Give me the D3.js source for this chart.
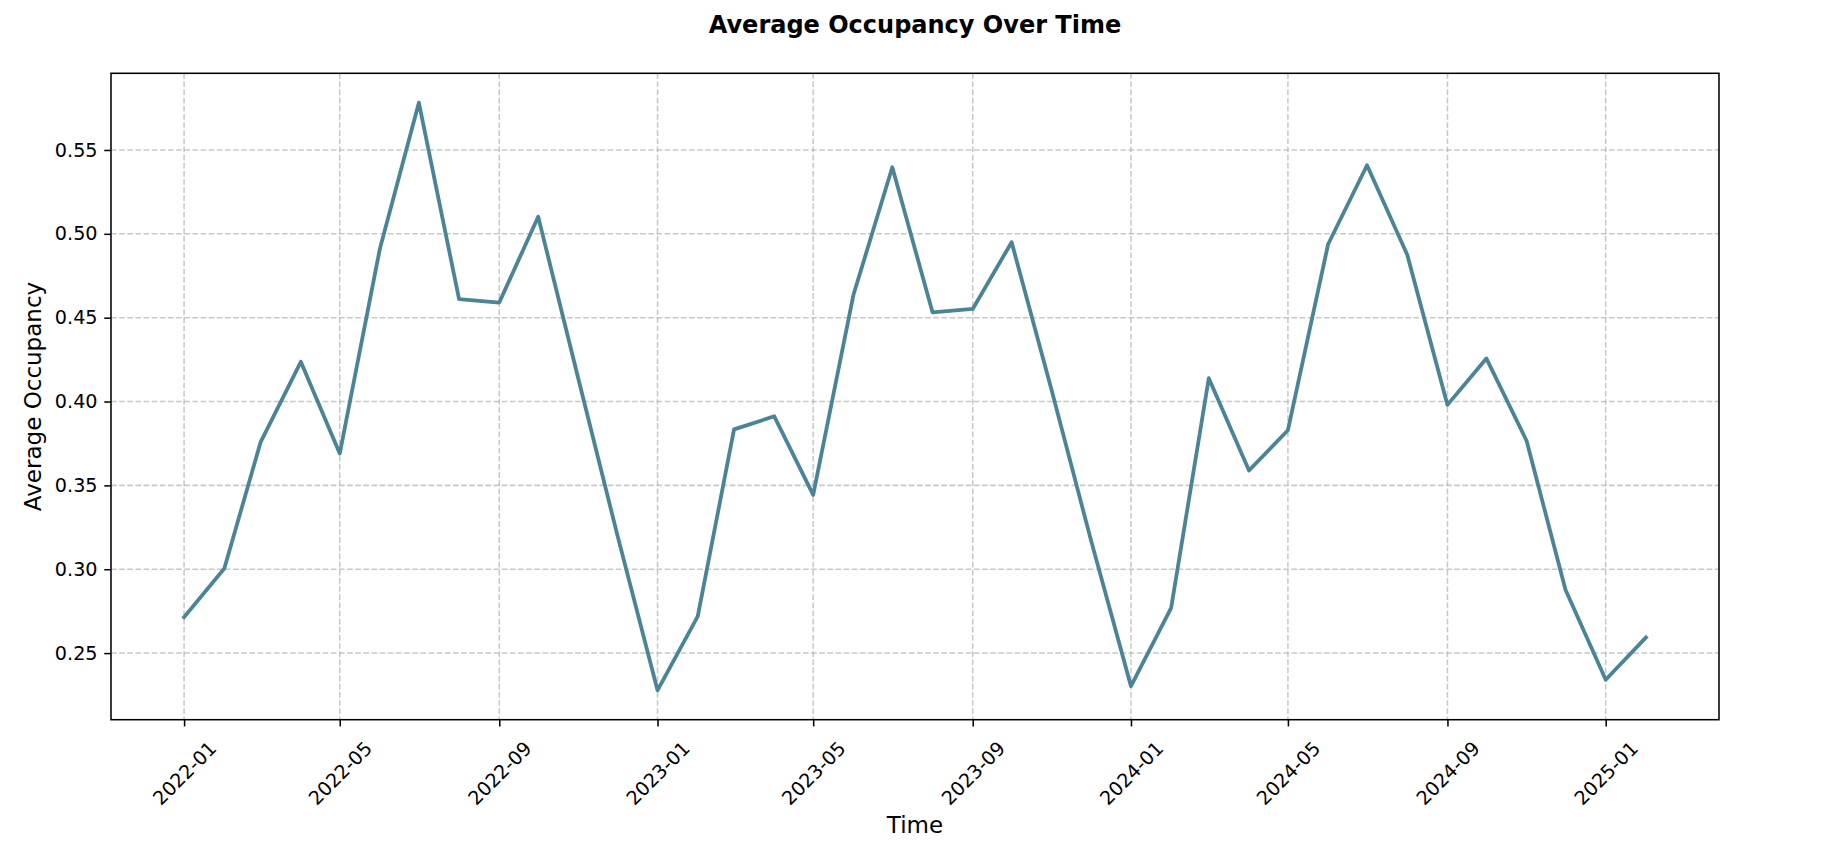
<!DOCTYPE html>
<html>
<head>
<meta charset="utf-8">
<script src="https://cdn.jsdelivr.net/npm/d3@7"></script>
<style>
  html, body { margin: 0; padding: 0; background: #ffffff; }
  svg { display: block; font-family: "DejaVu Sans", sans-serif; }
</style>
</head>
<body>
<svg id="chart" width="1828" height="860"></svg>
<script>
// ---- data ----
const months = [
  "2022-01","2022-02","2022-03","2022-04","2022-05","2022-06","2022-07","2022-08","2022-09","2022-10","2022-11","2022-12",
  "2023-01","2023-02","2023-03","2023-04","2023-05","2023-06","2023-07","2023-08","2023-09","2023-10","2023-11","2023-12",
  "2024-01","2024-02","2024-03","2024-04","2024-05","2024-06","2024-07","2024-08","2024-09","2024-10","2024-11","2024-12",
  "2025-01","2025-02"
];
const occupancy = [
  0.2714, 0.3004, 0.3758, 0.4237, 0.3690, 0.4913, 0.5782, 0.4610, 0.4590, 0.5102, 0.4134, 0.3205,
  0.2278, 0.2719, 0.3834, 0.3912, 0.3443, 0.4635, 0.5397, 0.4532, 0.4552, 0.4950, 0.4063, 0.3178,
  0.2303, 0.2770, 0.4139, 0.3589, 0.3829, 0.4938, 0.5409, 0.4875, 0.3980, 0.4257, 0.3766, 0.2878,
  0.2341, 0.2593
];
const xTickLabels = ["2022-01","2022-05","2022-09","2023-01","2023-05","2023-09","2024-01","2024-05","2024-09","2025-01"];
const yTickValues = [0.25, 0.30, 0.35, 0.40, 0.45, 0.50, 0.55];
const titleText = "Average Occupancy Over Time";
const xLabelText = "Time";
const yLabelText = "Average Occupancy";

// ---- layout ----
const W = 1828, H = 860;
const plot = { left: 111, right: 1719, top: 73.3, bottom: 719.7 };
const px = 1.92;                 // pixels per point
const tickLen = 3.5 * px, tickPad = 3.5 * px;

const parse = d3.utcParse("%Y-%m");
const data = months.map((m, i) => ({ date: parse(m), value: occupancy[i] }));

// x scale with 5% margins (matplotlib autoscale)
const x0 = data[0].date.getTime(), x1 = data[data.length - 1].date.getTime();
const xm = (x1 - x0) * 0.05;
const x = d3.scaleUtc()
  .domain([new Date(x0 - xm), new Date(x1 + xm)])
  .range([plot.left, plot.right]);

const yMin = d3.min(occupancy), yMax = d3.max(occupancy);
const ym = (yMax - yMin) * 0.05;
const y = d3.scaleLinear()
  .domain([yMin - ym, yMax + ym])
  .range([plot.bottom, plot.top]);

const svg = d3.select("#chart");
svg.append("rect").attr("width", W).attr("height", H).attr("fill", "#ffffff");

const xTicks = xTickLabels.map(parse);

// grid
const grid = svg.append("g").attr("stroke", "#b0b0b0").attr("stroke-opacity", 0.7)
  .attr("stroke-width", 0.8 * px).attr("stroke-dasharray", `${3.7 * 0.8 * px},${1.6 * 0.8 * px}`).attr("fill", "none");
grid.selectAll("line.gx").data(xTicks).join("line").attr("class", "gx")
  .attr("x1", d => x(d)).attr("x2", d => x(d)).attr("y1", plot.top).attr("y2", plot.bottom);
grid.selectAll("line.gy").data(yTickValues).join("line").attr("class", "gy")
  .attr("x1", plot.left).attr("x2", plot.right).attr("y1", d => y(d)).attr("y2", d => y(d));

// line
const line = d3.line().x(d => x(d.date)).y(d => y(d.value));
svg.append("path").datum(data)
  .attr("d", line)
  .attr("fill", "none")
  .attr("stroke", "#4a8496")
  .attr("stroke-width", 3.8)
  .attr("stroke-linejoin", "round")
  .attr("stroke-linecap", "square");

// axes frame
svg.append("rect")
  .attr("x", plot.left).attr("y", plot.top)
  .attr("width", plot.right - plot.left).attr("height", plot.bottom - plot.top)
  .attr("fill", "none").attr("stroke", "#000").attr("stroke-width", 0.8 * px);

// x axis via d3.axisBottom
const xAxis = d3.axisBottom(x).tickValues(xTicks).tickSize(tickLen).tickPadding(tickPad)
  .tickFormat(d3.utcFormat("%Y-%m"));
const gx = svg.append("g").attr("transform", `translate(0,${plot.bottom})`).call(xAxis);
gx.select(".domain").remove();
gx.selectAll(".tick line").attr("stroke", "#000").attr("stroke-width", 0.8 * px);
gx.selectAll(".tick text")
  .attr("font-family", "DejaVu Sans, sans-serif")
  .attr("font-size", 19.2)
  .attr("fill", "#000")
  .attr("text-anchor", "middle")
  .attr("y", 0).attr("dy", "0.35em")
  .attr("transform", "translate(0,53.5) rotate(-45)");

// y axis via d3.axisLeft
const yAxis = d3.axisLeft(y).tickValues(yTickValues).tickSize(tickLen).tickPadding(tickPad)
  .tickFormat(d3.format(".2f"));
const gy = svg.append("g").attr("transform", `translate(${plot.left},0)`).call(yAxis);
gy.select(".domain").remove();
gy.selectAll(".tick line").attr("stroke", "#000").attr("stroke-width", 0.8 * px);
gy.selectAll(".tick text")
  .attr("font-family", "DejaVu Sans, sans-serif")
  .attr("font-size", 19.2)
  .attr("fill", "#000");

// title
svg.append("text")
  .attr("x", (plot.left + plot.right) / 2 + 0).attr("y", 33.3)
  .attr("text-anchor", "middle")
  .attr("font-size", 24).attr("font-weight", "bold").attr("fill", "#000")
  .text(titleText);

// axis labels
svg.append("text")
  .attr("x", (plot.left + plot.right) / 2).attr("y", 833)
  .attr("text-anchor", "middle").attr("font-size", 23).attr("fill", "#000")
  .text(xLabelText);

svg.append("text")
  .attr("transform", `translate(40.5,${(plot.top + plot.bottom) / 2}) rotate(-90)`)
  .attr("text-anchor", "middle").attr("font-size", 23).attr("fill", "#000")
  .text(yLabelText);
</script>
</body>
</html>
